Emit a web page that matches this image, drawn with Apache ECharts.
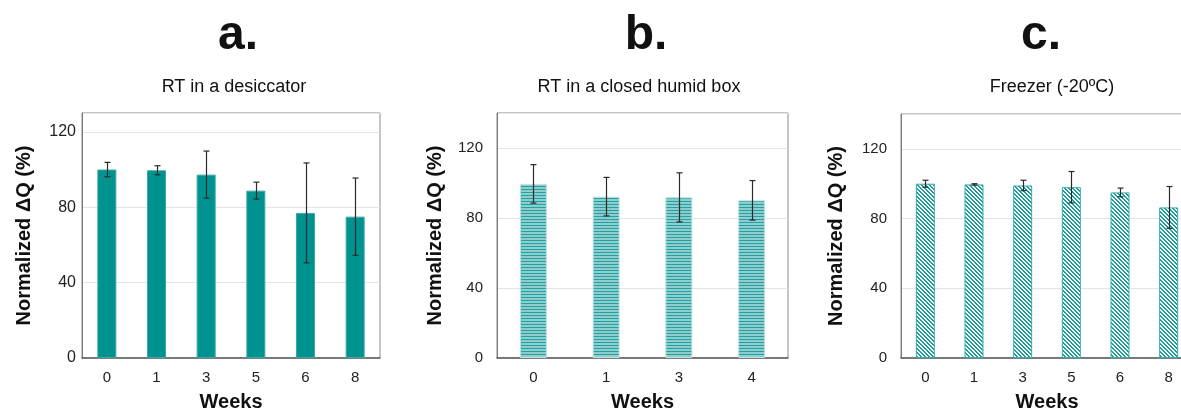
<!DOCTYPE html>
<html>
<head>
<meta charset="utf-8">
<script src="https://cdn.jsdelivr.net/npm/echarts@6/dist/echarts.min.js"></script>
<style>
html,body{margin:0;padding:0;background:#fff;}
#chart{width:1181px;height:410px;}
</style>
</head>
<body>
<div id="chart"></div>
<script>
// ---- data ----
const weeksA = ['0', '1', '3', '5', '6', '8'];
const valuesA = [100, 99.6, 97.3, 88.8, 77, 75];
const errorsA = [3.8, 2.4, 12.5, 4.5, 26.5, 20.5];

const weeksB = ['0', '1', '3', '4'];
const valuesB = [99.5, 92.2, 91.8, 90.1];
const errorsB = [11, 11, 14, 11.3];

const weeksC = ['0', '1', '3', '5', '6', '8'];
const valuesC = [100, 99.6, 99, 98, 95, 86.4];
const errorsC = [2, 0.4, 3, 9, 2.5, 12];

const panelLetters = ['a.', 'b.', 'c.'];
const panelTitles = ['RT in a desiccator', 'RT in a closed humid box', 'Freezer (-20ºC)'];
const yTicks = [0, 40, 80, 120];
const yAxisTitle = 'Normalized ΔQ (%)';
const xAxisTitle = 'Weeks';

// ---- patterns ----
function hPattern() {
  const c = document.createElement('canvas');
  c.width = 4; c.height = 3;
  const g = c.getContext('2d');
  g.fillStyle = '#8dcdcd'; g.fillRect(0, 0, 4, 3);
  g.fillStyle = '#259f9f'; g.fillRect(0, 0, 4, 1);
  return c;
}
function dPattern() {
  const c = document.createElement('canvas');
  c.width = 4; c.height = 4;
  const g = c.getContext('2d');
  g.fillStyle = '#ffffff'; g.fillRect(0, 0, 4, 4);
  g.fillStyle = '#1c9c9c';
  for (let i = 0; i < 4; i++) {
    g.fillRect(i, i, 1, 1);
    g.fillRect((i + 1) % 4, i, 1, 1);
  }
  return c;
}

const chart = echarts.init(document.getElementById('chart'), null, {renderer: 'canvas'});

const gridBase = {show: true, borderColor: '#8a8a8a', borderWidth: 1, containLabel: false, outerBoundsMode: 'none'};
const grids = [
  Object.assign({left: 82, top: 113, width: 298, height: 245}, gridBase),
  Object.assign({left: 497, top: 113, width: 291, height: 245}, gridBase),
  Object.assign({left: 901, top: 114, width: 292, height: 244}, gridBase)
];
const yMax = [130, 140, 140];
const yLabelMargin = [6, 14, 14];
const yNameGap = [48, 52, 55];
const cats = [weeksA, weeksB, weeksC];
const vals = [valuesA, valuesB, valuesC];
const errs = [errorsA, errorsB, errorsC];
const barW = [19, 27, 19];
const barColors = [
  '#00928e',
  {image: hPattern(), repeat: 'repeat'},
  {image: dPattern(), repeat: 'repeat'}
];
const barBorder = ['#3aa9a6', '#bfe3e3', '#37adad'];

const xAxes = [], yAxes = [], series = [];
for (let i = 0; i < 3; i++) {
  xAxes.push({
    type: 'category', gridIndex: i, data: cats[i],
    axisLine: {lineStyle: {color: '#5a5a5a', width: 1.5}},
    axisTick: {show: false},
    axisLabel: {color: '#222', fontSize: 15, fontFamily: 'Liberation Sans, Arial', margin: 12},
    name: xAxisTitle, nameLocation: 'middle', nameGap: 34,
    nameTextStyle: {color: '#111', fontSize: 20, fontWeight: 'bold', fontFamily: 'Liberation Sans, Arial'}
  });
  yAxes.push({
    type: 'value', gridIndex: i, min: 0, max: yMax[i], interval: 40,
    axisLine: {show: true, lineStyle: {color: '#7a7a7a', width: 1}},
    axisTick: {show: false},
    splitLine: {lineStyle: {color: '#e4e4e4', width: 1}},
    axisLabel: {
      color: '#222', fontSize: i === 0 ? 16 : 15, fontFamily: 'Liberation Sans, Arial', margin: yLabelMargin[i],
      formatter: v => (yTicks.indexOf(v) >= 0 ? String(v) : '')
    },
    name: yAxisTitle, nameLocation: 'middle', nameGap: yNameGap[i],
    nameTextStyle: {color: '#111', fontSize: 20, fontWeight: 'bold', fontFamily: 'Liberation Sans, Arial'}
  });
  series.push({
    type: 'bar', xAxisIndex: i, yAxisIndex: i, data: vals[i], barWidth: barW[i],
    itemStyle: {color: barColors[i], borderColor: barBorder[i], borderWidth: 1},
    silent: true, animation: false
  });
  const errData = vals[i].map((v, k) => [k, v - errs[i][k], v + errs[i][k]]);
  series.push({
    type: 'custom', xAxisIndex: i, yAxisIndex: i, data: errData, silent: true, animation: false, z: 10,
    renderItem: function (params, api) {
      const x = api.value(0);
      const lo = api.coord([x, api.value(1)]);
      const hi = api.coord([x, api.value(2)]);
      const cx = Math.round(lo[0]) + 0.5;
      const hw = 3;
      const st = {stroke: '#2a2a2a', lineWidth: 1.2};
      return {
        type: 'group',
        children: [
          {type: 'line', shape: {x1: cx, y1: lo[1], x2: cx, y2: hi[1]}, style: st},
          {type: 'line', shape: {x1: cx - hw, y1: lo[1], x2: cx + hw, y2: lo[1]}, style: st},
          {type: 'line', shape: {x1: cx - hw, y1: hi[1], x2: cx + hw, y2: hi[1]}, style: st}
        ]
      };
    }
  });
}

const letterX = [233, 641, 1036];
const subX = [229, 634, 1047];
const titles = [];
for (let i = 0; i < 3; i++) {
  titles.push({
    text: panelLetters[i], left: letterX[i], top: 7, textAlign: 'center',
    textStyle: {fontSize: 48, fontWeight: 'bold', color: '#111', fontFamily: 'Liberation Sans, Arial'}
  });
  titles.push({
    text: panelTitles[i], left: subX[i], top: 73, textAlign: 'center',
    textStyle: {fontSize: 18, fontWeight: 'normal', color: '#111', fontFamily: 'Liberation Sans, Arial'}
  });
}

chart.setOption({
  animation: false,
  backgroundColor: '#ffffff',
  title: titles,
  grid: grids,
  xAxis: xAxes,
  yAxis: yAxes,
  series: series
});
</script>
</body>
</html>
